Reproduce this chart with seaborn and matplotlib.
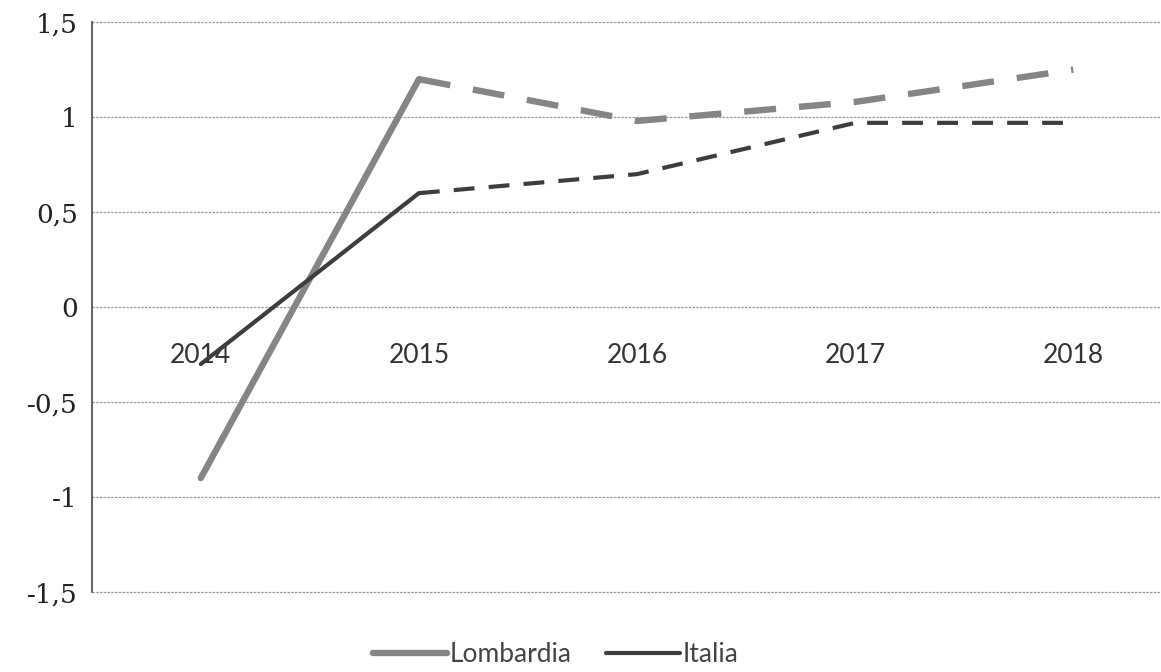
import seaborn as sns
import matplotlib.pyplot as plt
import pandas as pd

years = [2014, 2015, 2016, 2017, 2018]
lombardia = [-0.9, 1.2, 0.98, 1.08, 1.25]
italia = [-0.3, 0.6, 0.7, 0.97, 0.97]
y_ticks = [-1.5, -1, -0.5, 0, 0.5, 1, 1.5]
y_labels = ["-1,5", "-1", "-0,5", "0", "0,5", "1", "1,5"]


def segments(name, values):
    # first step is observed (solid), the rest is the forecast (dashed)
    rows = []
    for i, (yr, v) in enumerate(zip(years, values)):
        if i <= 1:
            rows.append({"Anno": yr, "Valore": v, "Area": name, "Tipo": "osservato"})
        if i >= 1:
            rows.append({"Anno": yr, "Valore": v, "Area": name, "Tipo": "previsione"})
    return pd.DataFrame(rows)


df_lomb = segments("Lombardia", lombardia)
df_ita = segments("Italia", italia)

sns.set_style("white")
plt.rcParams["font.family"] = ["Lato", "DejaVu Sans"]

fig = plt.figure(figsize=(11.61, 6.72), dpi=100)
ax = fig.add_axes([0.079, 0.119, 0.93, 0.848])

sns.lineplot(data=df_lomb, x="Anno", y="Valore", style="Tipo",
             dashes={"osservato": "", "previsione": (5, 3.6)},
             color="#858585", linewidth=4.6, legend=False, ax=ax)
sns.lineplot(data=df_ita, x="Anno", y="Valore", style="Tipo",
             dashes={"osservato": "", "previsione": (5, 3.4)},
             color="#3d3d3d", linewidth=3.0, legend=False, ax=ax)

# x axis sits on the zero line (set before the labels, it resets ticks)
ax.spines["bottom"].set_position(("data", 0))
ax.spines["bottom"].set_visible(False)
ax.spines["top"].set_visible(False)
ax.spines["right"].set_visible(False)
ax.spines["left"].set_color("#555555")
ax.spines["left"].set_linewidth(1.3)

ax.set_ylim(-1.5, 1.5)
ax.set_xlim(2013.5, 2018.45)
ax.set_yticks(y_ticks)
ax.set_yticklabels(y_labels)
ax.set_xticks(years)
ax.set_xticklabels([str(y) for y in years])
ax.tick_params(axis="x", length=0, pad=26, labelsize=19, labelcolor="#333333")
ax.tick_params(axis="y", length=0, pad=10, labelsize=19, labelcolor="#222222",
               labelfontfamily="DejaVu Serif")

ax.grid(axis="y", color="#9a9a9a", linewidth=0.9, linestyle=(0, (2, 1)))
for gl in ax.yaxis.get_gridlines():
    gl.set_clip_on(False)
ax.set_axisbelow(True)
ax.set_xlabel("")
ax.set_ylabel("")

handles = [ax.lines[0], ax.lines[2]]
ax.legend(handles, ["Lombardia", "Italia"], loc="center",
          bbox_to_anchor=(0.43, -0.11), ncol=2, frameon=False,
          fontsize=19, handlelength=2.8, handletextpad=0.1, columnspacing=1.3,
          labelcolor="#444444")

fig.savefig("out.png", dpi=100)
